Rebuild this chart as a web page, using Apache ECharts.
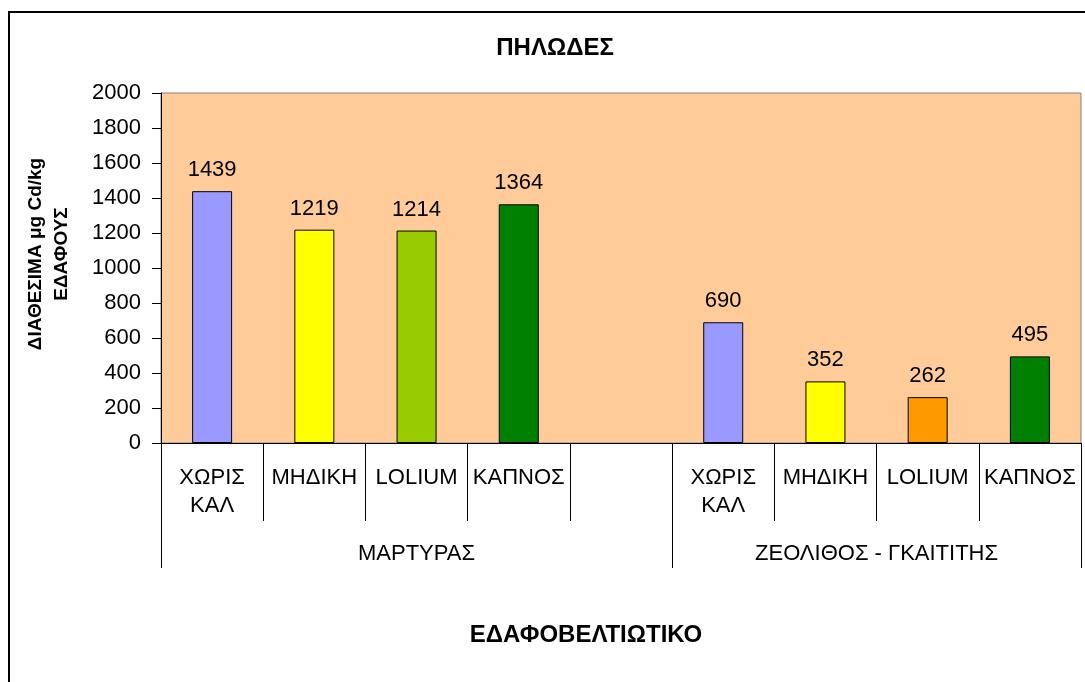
<!DOCTYPE html>
<html>
<head>
<meta charset="utf-8">
<script src="https://cdn.jsdelivr.net/npm/echarts@6/dist/echarts.min.js"></script>
<style>
  html, body { margin: 0; padding: 0; background: #fff; }
  #chart { width: 1085px; height: 682px; }
</style>
</head>
<body>
<div id="chart"></div>
<script>
const categories = ['ΧΩΡΙΣ\nΚΑΛ', 'ΜΗΔΙΚΗ', 'LOLIUM', 'ΚΑΠΝΟΣ', '', 'ΧΩΡΙΣ\nΚΑΛ', 'ΜΗΔΙΚΗ', 'LOLIUM', 'ΚΑΠΝΟΣ']
const values = [1439, 1219, 1214, 1364, null, 690, 352, 262, 495]
const barColors = ['#9999FF', '#FFFF00', '#99CC00', '#008000', '#FFFFFF', '#9999FF', '#FFFF00', '#FF9900', '#008000']
const groupNames = ['ΜΑΡΤΥΡΑΣ', 'ΖΕΟΛΙΘΟΣ - ΓΚΑΙΤΙΤΗΣ']
const groupBounds = [0, 5, 9]
const groupCenters = [2.5, 7]
const yTicks = { min: 0, max: 2000, step: 200 }

const FONT = '"Liberation Sans", Arial, sans-serif'

const chart = echarts.init(document.getElementById('chart'))

const barData = values.map((v, i) => ({
  value: v,
  itemStyle: { color: barColors[i] },
}))

chart.setOption({
  animation: false,
  textStyle: { fontFamily: FONT },
  grid: {
    left: 161,
    right: 4,
    top: 93,
    height: 350,
    show: true,
    backgroundColor: '#FFCC99',
    borderColor: '#808080',
    borderWidth: 1,
  },
  xAxis: [
    {
      type: 'category',
      data: categories,
      axisLine: { lineStyle: { color: '#000', width: 1 } },
      axisTick: { show: true, alignWithLabel: false, interval: 0, length: 78, lineStyle: { color: '#000' } },
      axisLabel: {
        interval: 0,
        margin: 21,
        color: '#000',
        fontSize: 22,
        lineHeight: 28,
        fontFamily: FONT,
      },
      splitLine: { show: false },
    },
    {
      type: 'value',
      position: 'bottom',
      offset: 78,
      min: 0,
      max: 9,
      axisLine: { show: false },
      axisTick: {
        show: true,
        customValues: groupBounds,
        length: 47,
        lineStyle: { color: '#000' },
      },
      axisLabel: {
        customValues: groupCenters,
        margin: 19,
        color: '#000',
        fontSize: 22,
        lineHeight: 28,
        fontFamily: FONT,
        formatter: (v) => groupNames[groupCenters.indexOf(v)] || '',
      },
      splitLine: { show: false },
    },
  ],
  yAxis: {
    type: 'value',
    min: yTicks.min,
    max: yTicks.max,
    interval: yTicks.step,
    axisLine: { show: true, lineStyle: { color: '#000' } },
    axisTick: { show: true, length: 9, lineStyle: { color: '#000' } },
    axisLabel: { margin: 20, color: '#000', fontSize: 22, fontFamily: FONT, formatter: (v) => String(v) },
    splitLine: { show: false },
  },
  series: [
    {
      type: 'bar',
      xAxisIndex: 0,
      data: barData,
      barWidth: 40,
      itemStyle: { borderColor: '#000', borderWidth: 1 },
      label: {
        show: true,
        position: 'top',
        distance: 10,
        color: '#000',
        fontSize: 22,
        fontFamily: FONT,
      },
    },
  ],
  graphic: [
    {
      type: 'rect',
      shape: { x: 9, y: 12, width: 1200, height: 800 },
      style: { fill: 'none', stroke: '#000', lineWidth: 2 },
      silent: true,
    },
    {
      type: 'text',
      x: 555,
      y: 48,
      style: {
        text: 'ΠΗΛΩΔΕΣ',
        font: 'bold 24px ' + FONT,
        fill: '#000',
        textAlign: 'center',
        textVerticalAlign: 'middle',
      },
    },
    {
      type: 'text',
      x: 586,
      y: 635,
      style: {
        text: 'ΕΔΑΦΟΒΕΛΤΙΩΤΙΚΟ',
        font: 'bold 24px ' + FONT,
        fill: '#000',
        textAlign: 'center',
        textVerticalAlign: 'middle',
      },
    },
    {
      type: 'text',
      x: 49,
      y: 254,
      rotation: Math.PI / 2,
      style: {
        text: 'ΔΙΑΘΕΣΙΜΑ μg Cd/kg\nΕΔΑΦΟΥΣ',
        font: 'bold 19px ' + FONT,
        lineHeight: 26,
        fill: '#000',
        textAlign: 'center',
        textVerticalAlign: 'middle',
      },
    },
  ],
})
</script>
</body>
</html>
